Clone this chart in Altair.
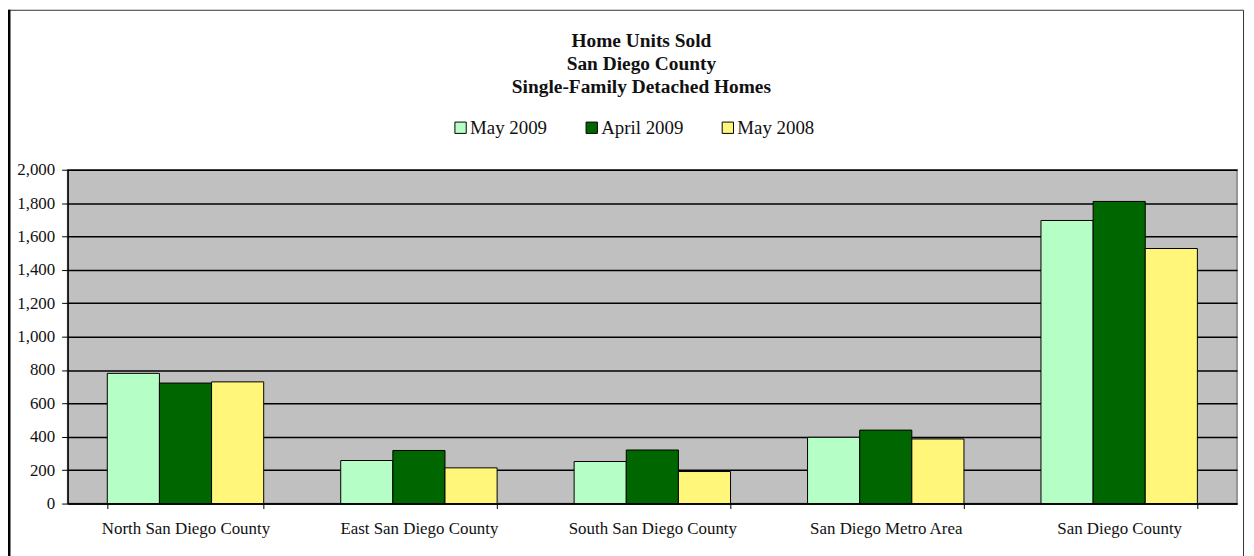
import altair as alt
import pandas as pd

regions = ["North San Diego County", "East San Diego County", "South San Diego County",
           "San Diego Metro Area", "San Diego County"]
series = ["May 2009", "April 2009", "May 2008"]
may_2009 = [780, 258, 252, 397, 1696]
april_2009 = [722, 318, 321, 440, 1810]
may_2008 = [729, 214, 192, 387, 1528]
colors = ["#B5FFC6", "#006600", "#FFF67A"]
y_ticks = [0, 200, 400, 600, 800, 1000, 1200, 1400, 1600, 1800, 2000]

rows = []
for s, vals in zip(series, [may_2009, april_2009, may_2008]):
    for r, v in zip(regions, vals):
        rows.append({"Region": r, "Series": s, "Units": v})
df = pd.DataFrame(rows)

W, H = 1177, 336
FONT = "Liberation Serif"

bars = alt.Chart(df).mark_bar(stroke="black", strokeWidth=1).encode(
    x=alt.X("Region:N", sort=regions,
            scale=alt.Scale(paddingInner=0.33, paddingOuter=0.17),
            axis=alt.Axis(title=None, labelAngle=0, tickBand="extent", tickSize=5,
                          tickColor="black", domainColor="black", domainWidth=1.5,
                          labelFont=FONT, labelFontSize=17, labelColor="#111",
                          labelPadding=12, grid=False)),
    xOffset=alt.XOffset("Series:N", sort=series),
    y=alt.Y("Units:Q", scale=alt.Scale(domain=[0, 2000], nice=False),
            axis=alt.Axis(title=None, values=y_ticks, format=",.0f", tickSize=6,
                          tickColor="black", domainColor="black", domainWidth=1.5,
                          gridColor="black", gridWidth=1.5, gridOpacity=1,
                          labelFont=FONT, labelFontSize=17, labelColor="#111",
                          labelPadding=7)),
    color=alt.Color("Series:N", sort=series,
                    scale=alt.Scale(domain=series, range=colors),
                    legend=alt.Legend(title=None, orient="none", direction="horizontal",
                                      legendX=386, legendY=-52, symbolType="square",
                                      symbolSize=130, symbolStrokeColor="black",
                                      symbolStrokeWidth=1, symbolOpacity=1,
                                      labelFont=FONT, labelFontSize=19, labelColor="#111",
                                      labelOffset=0, columnPadding=35, padding=0)),
)

frame_df = pd.DataFrame({"k": [0]})
frame = alt.Chart(frame_df).mark_rect(fill=None, stroke="#333", strokeWidth=1).encode(
    x=alt.value(-59.5), x2=alt.value(1183.5), y=alt.value(-160.5), y2=alt.value(420))
left_edge = alt.Chart(frame_df).mark_rule(stroke="black", strokeWidth=3).encode(
    x=alt.value(-59), y=alt.value(-161), y2=alt.value(420))

chart = alt.layer(bars, frame, left_edge).properties(
    width=W, height=H,
    autosize=alt.AutoSizeParams(type="none"),
    padding={"left": 60, "top": 161, "right": 9, "bottom": 51},
    title=alt.Title(["Home Units Sold", "San Diego County", "Single-Family Detached Homes"],
                    font=FONT, fontSize=19.5, fontWeight="bold", color="#111",
                    anchor="middle", dx=-11, dy=110, lineHeight=23.5, offset=20),
).configure_view(fill="#C0C0C0", stroke="#808080", strokeWidth=1.5)

chart.save("out.html", embed_options={"renderer": "svg", "actions": False})
